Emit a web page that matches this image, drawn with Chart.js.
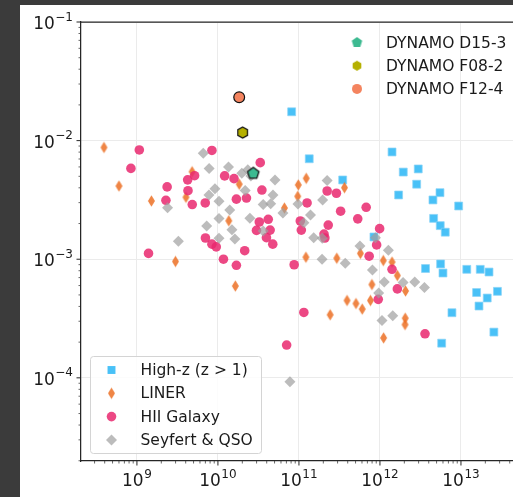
<!DOCTYPE html>
<html>
<head>
<meta charset="utf-8">
<script src="https://cdn.jsdelivr.net/npm/chart.js@4.4.0/dist/chart.umd.min.js"></script>
<style>
  html, body { margin: 0; padding: 0; background: #3b3b3b; overflow: hidden; }
  #wrap { position: absolute; left: 20px; top: 5px; width: 493px; height: 492px; background: #fff; }
  canvas { display: block; }
</style>
</head>
<body>
<div id="wrap"><canvas id="ratio-chart" width="493" height="492"></canvas></div>
<script>

// data
const highZX = [8.13e10, 1.34e11, 3.47e11, 1.41e12, 1.94e12, 2.97e12, 2.84e12, 1.70e12, 5.51e12, 4.51e12, 9.37e12, 4.60e12, 5.55e12, 6.40e12, 8.43e11, 3.65e12, 5.61e12, 6.00e12, 1.18e13, 1.73e13, 2.22e13, 1.56e13, 2.11e13, 2.82e13, 1.67e13, 7.74e12, 5.78e12, 2.55e13];
const highZY = [1.75e-2, 7.03e-3, 4.66e-3, 8.02e-3, 5.43e-3, 5.77e-3, 4.29e-3, 3.48e-3, 3.64e-3, 3.16e-3, 2.81e-3, 2.21e-3, 1.92e-3, 1.69e-3, 1.54e-3, 8.35e-4, 9.12e-4, 7.65e-4, 8.22e-4, 8.22e-4, 7.80e-4, 5.24e-4, 4.71e-4, 5.36e-4, 4.03e-4, 3.54e-4, 1.96e-4, 2.43e-4];

const linerX = [3.92e8, 6.00e8, 1.51e9, 4.03e9, 4.80e9, 1.36e10, 1.83e10, 2.99e9, 1.64e10, 9.81e10, 1.23e11, 9.66e10, 3.65e11, 6.62e10, 1.22e11, 2.93e11, 5.74e11, 1.10e12, 1.41e12, 1.64e12, 7.96e11, 2.07e12, 3.92e11, 5.06e11, 6.04e11, 7.64e11, 2.43e11, 2.05e12, 2.04e12, 1.11e12];
const linerY = [8.75e-3, 4.14e-3, 3.10e-3, 3.33e-3, 5.47e-3, 2.11e-3, 4.29e-3, 9.57e-4, 5.94e-4, 4.23e-3, 4.81e-3, 3.39e-3, 4.01e-3, 2.70e-3, 1.04e-3, 1.02e-3, 1.12e-3, 9.75e-4, 9.46e-4, 7.29e-4, 6.12e-4, 5.40e-4, 4.49e-4, 4.23e-4, 3.80e-4, 4.49e-4, 3.40e-4, 3.18e-4, 2.81e-4, 2.17e-4];

const hiiX = [1.07e9, 8.43e8, 8.43e9, 2.36e9, 4.23e9, 5.15e9, 4.27e9, 2.28e9, 4.82e9, 6.97e9, 1.21e10, 1.58e10, 1.69e10, 2.25e10, 3.33e10, 7.01e9, 8.43e9, 9.53e9, 1.17e10, 1.69e10, 2.14e10, 1.39e9, 3.24e10, 4.18e10, 2.99e10, 4.41e10, 3.97e10, 4.75e10, 3.49e10, 8.73e10, 1.04e11, 1.07e11, 1.26e11, 2.23e11, 2.90e11, 3.27e11, 6.76e11, 5.32e11, 2.30e11, 2.04e11, 2.09e11, 9.91e11, 9.10e11, 7.36e11, 1.41e12, 1.64e12, 9.53e11, 1.15e11, 3.60e12, 7.05e10];
const hiiY = [8.34e-3, 5.83e-3, 8.26e-3, 4.07e-3, 4.67e-3, 5.06e-3, 3.78e-3, 3.14e-3, 2.89e-3, 2.98e-3, 5.04e-3, 4.78e-3, 3.21e-3, 3.28e-3, 6.52e-3, 1.51e-3, 1.34e-3, 1.27e-3, 1.00e-3, 8.89e-4, 1.18e-3, 1.12e-3, 2.06e-3, 2.17e-3, 1.75e-3, 1.76e-3, 1.52e-3, 1.34e-3, 3.83e-3, 8.98e-4, 2.10e-3, 1.76e-3, 2.98e-3, 3.76e-3, 3.60e-3, 2.54e-3, 2.74e-3, 2.19e-3, 1.94e-3, 1.63e-3, 1.51e-3, 1.81e-3, 1.32e-3, 1.06e-3, 8.22e-4, 5.62e-4, 4.59e-4, 3.56e-4, 2.35e-4, 1.89e-4];

const seyfertX = [6.59e9, 7.78e9, 1.35e10, 1.97e10, 2.34e10, 2.55e10, 2.17e10, 9.18e9, 7.74e9, 1.03e10, 2.39e9, 1.40e10, 7.27e9, 1.03e10, 2.48e10, 1.49e10, 1.62e10, 1.03e10, 3.25e9, 5.06e10, 4.78e10, 3.62e10, 4.48e10, 6.34e10, 9.72e10, 2.23e11, 1.96e11, 1.39e11, 3.62e10, 1.15e11, 1.52e11, 1.94e11, 5.66e11, 8.79e11, 1.27e12, 1.93e11, 3.73e11, 8.08e11, 1.13e12, 1.93e12, 2.69e12, 3.54e12, 9.64e11, 1.06e12, 1.44e12, 7.74e10];
const seyfertY = [7.82e-3, 5.82e-3, 5.98e-3, 5.30e-3, 5.68e-3, 5.04e-3, 3.79e-3, 3.93e-3, 3.48e-3, 3.08e-3, 2.72e-3, 2.60e-3, 1.91e-3, 2.20e-3, 2.21e-3, 1.77e-3, 1.48e-3, 1.50e-3, 1.42e-3, 4.66e-3, 3.48e-3, 2.89e-3, 2.94e-3, 2.45e-3, 2.92e-3, 4.61e-3, 3.16e-3, 2.36e-3, 1.73e-3, 2.03e-3, 1.52e-3, 1.50e-3, 1.29e-3, 1.52e-3, 1.19e-3, 1.00e-3, 9.23e-4, 8.11e-4, 6.43e-4, 6.37e-4, 6.43e-4, 5.77e-4, 5.19e-4, 3.05e-4, 3.34e-4, 9.27e-5];

// DYNAMO D15-3, F08-2, F12-4
const dynamoNames = ['DYNAMO D15-3', 'DYNAMO F08-2', 'DYNAMO F12-4'];
const dynamoX = [2.73e10, 2.02e10, 1.83e10];
const dynamoY = [5.30e-3, 1.17e-2, 2.32e-2];

const groupNames = ['High-z (z > 1)', 'LINER', 'HII Galaxy', 'Seyfert & QSO'];

// tick labels are 10 to the power below
const xTickValues = [1e9, 1e10, 1e11, 1e12, 1e13];
const xTickPowers = ['9', '10', '11', '12', '13'];
const yTickValues = [1e-4, 1e-3, 1e-2, 1e-1];
const yTickPowers = ['−4', '−3', '−2', '−1'];

const xMin = 2.04e8, xMax = 4.39e13;
const yMin = 1.99e-5, yMax = 0.1;

// marker images
function polyMarker(sides, r, fill, stroke, lw, rot) {
    const c = document.createElement('canvas');
    const s = Math.ceil(2 * r + lw + 2);
    c.width = s; c.height = s;
    const g = c.getContext('2d');
    g.beginPath();
    for (let i = 0; i < sides; i++) {
        const a = rot + i * 2 * Math.PI / sides;
        const px = s / 2 + r * Math.cos(a), py = s / 2 + r * Math.sin(a);
        i ? g.lineTo(px, py) : g.moveTo(px, py);
    }
    g.closePath();
    g.fillStyle = fill; g.fill();
    if (lw) { g.lineWidth = lw; g.strokeStyle = stroke; g.stroke(); }
    return c;
}

function thinDiamond(w, h, fill) {
    const c = document.createElement('canvas');
    c.width = Math.ceil(w + 2); c.height = Math.ceil(h + 2);
    const g = c.getContext('2d');
    const cx = c.width / 2, cy = c.height / 2;
    g.beginPath();
    g.moveTo(cx, cy - h / 2); g.lineTo(cx + w / 2, cy); g.lineTo(cx, cy + h / 2); g.lineTo(cx - w / 2, cy);
    g.closePath();
    g.fillStyle = fill; g.fill();
    return c;
}

const blue = 'rgba(41,182,246,0.85)';
const orange = 'rgba(236,112,36,0.85)';
const pink = 'rgba(233,40,110,0.85)';
const gray = 'rgba(160,160,160,0.7)';
const teal = '#3dba91';
const olive = '#b5b000';
const salmon = '#f4845f';
const ink = '#1a1a1a';

const linerMarker = thinDiamond(7, 11.5, orange);
const pentagonMarker = polyMarker(5, 6, teal, '#111', 1.2, -Math.PI / 2);
const hexagonMarker = polyMarker(6, 5.6, olive, '#111', 1.2, -Math.PI / 2);
const pentagonLegend = polyMarker(5, 5.5, teal, null, 0, -Math.PI / 2);
const hexagonLegend = polyMarker(6, 5, olive, null, 0, -Math.PI / 2);

function points(xs, ys) {
    return xs.map((x, i) => ({ x: x, y: ys[i] }));
}

// major + minor log ticks inside the range
function logTicks(min, max) {
    const ticks = [];
    for (let e = Math.floor(Math.log10(min)); e <= Math.ceil(Math.log10(max)); e++) {
        for (let k = 1; k <= 9; k++) {
            const v = k * Math.pow(10, e);
            if (v >= min * 0.999 && v <= max * 1.001) ticks.push({ value: v, major: k === 1 });
        }
    }
    return ticks;
}

// "10" with a raised power, like mathtext
function drawPower(ctx, power, x, baseline, align) {
    ctx.font = '17px "DejaVu Sans"';
    const w1 = ctx.measureText('10').width;
    ctx.font = '12px "DejaVu Sans"';
    const w2 = ctx.measureText(power).width;
    const total = w1 + 0.5 + w2;
    const x0 = align === 'right' ? x - total : x - total / 2;
    ctx.font = '17px "DejaVu Sans"';
    ctx.fillText('10', x0, baseline);
    ctx.font = '12px "DejaVu Sans"';
    ctx.fillText(power, x0 + w1 + 0.5, baseline - 8.5);
}

// ticks, tick labels, top spine
const axisDecor = {
    id: 'axisDecor',
    afterDraw(chart) {
        const { ctx, chartArea: a, scales } = chart;
        ctx.save();
        ctx.strokeStyle = '#262626';
        scales.x.ticks.forEach(t => {
            const p = scales.x.getPixelForValue(t.value);
            ctx.lineWidth = t.major ? 1 : 0.7;
            ctx.beginPath();
            ctx.moveTo(p, a.bottom);
            ctx.lineTo(p, a.bottom + (t.major ? 4.5 : 2.5));
            ctx.stroke();
        });
        scales.y.ticks.forEach(t => {
            const p = scales.y.getPixelForValue(t.value);
            ctx.lineWidth = t.major ? 1 : 0.7;
            ctx.beginPath();
            ctx.moveTo(a.left, p);
            ctx.lineTo(a.left - (t.major ? 4.5 : 2.5), p);
            ctx.stroke();
        });
        ctx.lineWidth = 1.25;
        ctx.beginPath();
        ctx.moveTo(a.left, a.top);
        ctx.lineTo(a.right, a.top);
        ctx.stroke();

        ctx.fillStyle = ink;
        ctx.textAlign = 'left';
        ctx.textBaseline = 'alphabetic';
        xTickValues.forEach((v, i) => {
            drawPower(ctx, xTickPowers[i], scales.x.getPixelForValue(v), a.bottom + 25, 'center');
        });
        yTickValues.forEach((v, i) => {
            drawPower(ctx, yTickPowers[i], a.left - 8, scales.y.getPixelForValue(v) + 7, 'right');
        });
        ctx.restore();
    }
};

// two matplotlib style legends
const twoLegends = {
    id: 'twoLegends',
    afterDraw(chart) {
        const { ctx, chartArea: a } = chart;
        ctx.save();
        ctx.font = '15.5px "DejaVu Sans"';
        ctx.textBaseline = 'middle';
        ctx.textAlign = 'left';

        // top right, no frame
        const topRows = [
            { img: pentagonLegend },
            { img: hexagonLegend },
            { style: 'circle', fill: salmon, r: 5 }
        ];
        topRows.forEach((row, i) => {
            const mx = a.left + 276, my = a.top + 20.5 + i * 23.2;
            if (row.img) {
                ctx.drawImage(row.img, mx - row.img.width / 2, my - row.img.height / 2);
            } else {
                ctx.fillStyle = row.fill;
                Chart.helpers.drawPoint(ctx, { pointStyle: row.style, radius: row.r, borderWidth: 0, rotation: 0 }, mx, my);
            }
            ctx.fillStyle = ink;
            ctx.fillText(dynamoNames[i], a.left + 305, my + 1);
        });

        // bottom left, framed
        const bx = a.left + 9, by = a.bottom - 105, bw = 171, bh = 97;
        ctx.beginPath();
        ctx.roundRect(bx + 0.5, by + 0.5, bw, bh, 3);
        ctx.fillStyle = 'rgba(255,255,255,0.85)';
        ctx.fill();
        ctx.strokeStyle = '#d4d4d4';
        ctx.lineWidth = 1;
        ctx.stroke();

        const bottomRows = [
            { style: 'rect', fill: blue, r: 5.6 },
            { img: linerMarker },
            { style: 'circle', fill: pink, r: 4.8 },
            { style: 'rectRot', fill: gray, r: 5.5 }
        ];
        bottomRows.forEach((row, i) => {
            const mx = bx + 21.5, my = by + 14 + i * 23.3;
            if (row.img) {
                ctx.drawImage(row.img, mx - row.img.width / 2, my - row.img.height / 2);
            } else {
                ctx.fillStyle = row.fill;
                Chart.helpers.drawPoint(ctx, { pointStyle: row.style, radius: row.r, borderWidth: 0, rotation: 0 }, mx, my);
            }
            ctx.fillStyle = ink;
            ctx.fillText(groupNames[i], bx + 50.5, my + 1);
        });
        ctx.restore();
    }
};

const gridColor = (c) => (c.tick && c.tick.major ? '#ebebeb' : 'rgba(0,0,0,0)');

const ratioConfig = {
    type: 'scatter',
    data: {
        datasets: [
            {
                label: groupNames[0],
                data: points(highZX, highZY),
                pointStyle: 'rect',
                pointRadius: 5.6,
                backgroundColor: blue,
                borderColor: 'rgba(140,212,246,0.9)',
                borderWidth: 0.8,
                order: 5
            },
            {
                label: groupNames[1],
                data: points(linerX, linerY),
                pointStyle: linerMarker,
                order: 4
            },
            {
                label: groupNames[2],
                data: points(hiiX, hiiY),
                pointStyle: 'circle',
                pointRadius: 4.8,
                backgroundColor: pink,
                borderWidth: 0,
                order: 3
            },
            {
                label: groupNames[3],
                data: points(seyfertX, seyfertY),
                pointStyle: 'rectRot',
                pointRadius: 5.5,
                backgroundColor: gray,
                borderWidth: 0,
                order: 2
            },
            {
                label: dynamoNames[0],
                data: [{ x: dynamoX[0], y: dynamoY[0] }],
                pointStyle: pentagonMarker,
                order: 1
            },
            {
                label: dynamoNames[1],
                data: [{ x: dynamoX[1], y: dynamoY[1] }],
                pointStyle: hexagonMarker,
                order: 1
            },
            {
                label: dynamoNames[2],
                data: [{ x: dynamoX[2], y: dynamoY[2] }],
                pointStyle: 'circle',
                pointRadius: 5.4,
                backgroundColor: salmon,
                borderColor: '#111',
                borderWidth: 1.2,
                order: 1
            }
        ]
    },
    options: {
        responsive: false,
        animation: false,
        events: [],
        layout: { autoPadding: false, padding: { top: 17, right: 0, left: 0, bottom: 0 } },
        plugins: {
            legend: { display: false },
            tooltip: { enabled: false }
        },
        scales: {
            x: {
                type: 'logarithmic',
                min: xMin,
                max: xMax,
                afterBuildTicks: (scale) => { scale.ticks = logTicks(xMin, xMax); },
                afterFit: (scale) => { scale.height = 36; },
                grid: { color: gridColor, lineWidth: 1, drawTicks: false },
                border: { color: '#262626', width: 1.25 },
                ticks: { display: false }
            },
            y: {
                type: 'logarithmic',
                min: yMin,
                max: yMax,
                afterBuildTicks: (scale) => { scale.ticks = logTicks(yMin, yMax); },
                afterFit: (scale) => { scale.width = 61; },
                grid: { color: gridColor, lineWidth: 1, drawTicks: false },
                border: { color: '#262626', width: 1.25 },
                ticks: { display: false }
            }
        }
    },
    plugins: [axisDecor, twoLegends]
};

let ratioChart = new Chart(
    document.getElementById('ratio-chart'),
    ratioConfig
);
</script>
</body>
</html>
